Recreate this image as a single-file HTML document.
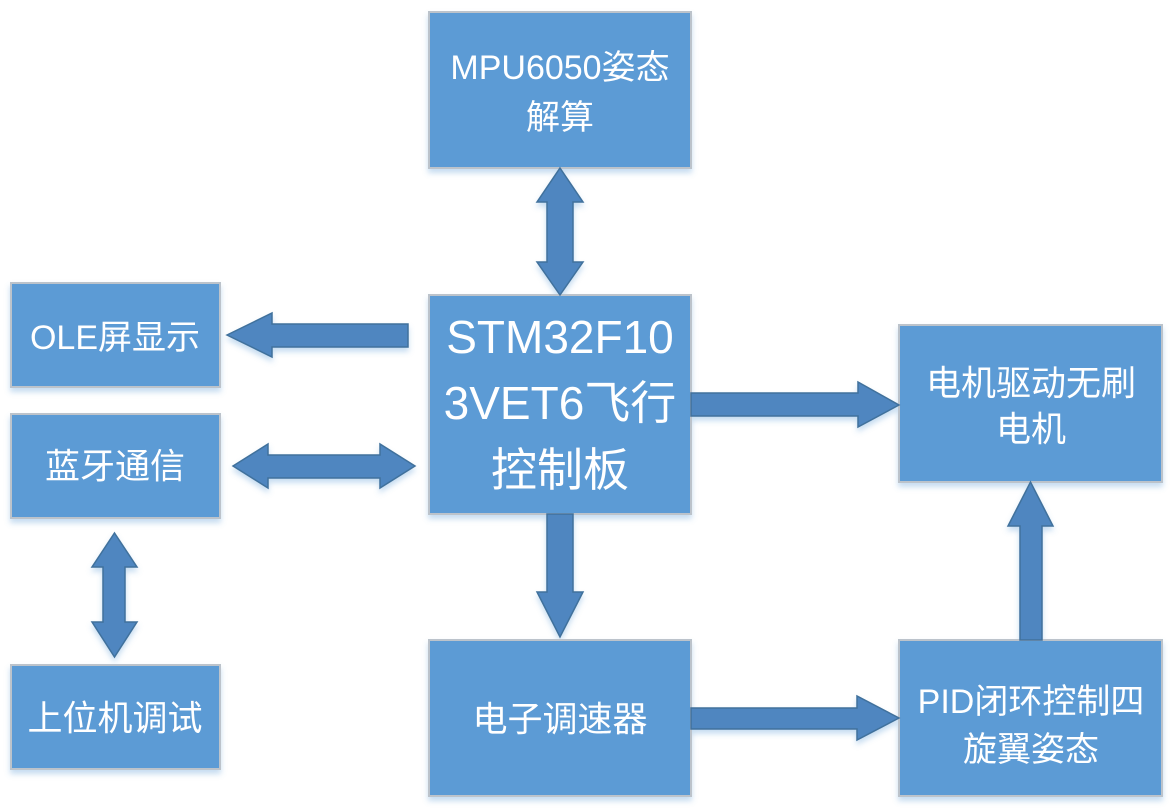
<!DOCTYPE html>
<html>
<head>
<meta charset="utf-8">
<style>
  html,body{margin:0;padding:0;background:#ffffff;}
  body{width:1170px;height:808px;overflow:hidden;}
  svg{display:block;}
  .box{fill:#5b9bd5;stroke:#bcc3cb;stroke-width:2;}
  .arr{fill:#4f86c0;stroke:#41719c;stroke-width:1.5;stroke-linejoin:miter;}
  text{fill:#ffffff;font-family:"Liberation Sans","Noto Sans CJK SC",sans-serif;text-anchor:middle;dominant-baseline:central;}
</style>
</head>
<body>
<svg width="1170" height="808" viewBox="0 0 1170 808" xmlns="http://www.w3.org/2000/svg">
  <defs>
    <filter id="sh" x="-10%" y="-10%" width="120%" height="130%">
      <feGaussianBlur in="SourceAlpha" stdDeviation="3"/>
      <feOffset dx="0" dy="4" result="b"/>
      <feFlood flood-color="#5b9bd5" flood-opacity="0.35"/>
      <feComposite in2="b" operator="in"/>
      <feMerge><feMergeNode/><feMergeNode in="SourceGraphic"/></feMerge>
    </filter>
  </defs>

  <g filter="url(#sh)">
    <!-- boxes -->
    <rect class="box" x="429" y="12" width="262" height="156"/>
    <rect class="box" x="429" y="295" width="262" height="219"/>
    <rect class="box" x="11" y="283" width="209" height="104"/>
    <rect class="box" x="11" y="414" width="209" height="104"/>
    <rect class="box" x="11" y="665" width="209" height="104"/>
    <rect class="box" x="899" y="325" width="263" height="157"/>
    <rect class="box" x="429" y="640" width="262" height="156"/>
    <rect class="box" x="899" y="640" width="263" height="156"/>

    <!-- arrows -->
    <!-- MPU <-> STM -->
    <polygon class="arr" points="560,168 583,202 573,202 573,262 583,262 560,295 537,262 547,262 547,202 537,202"/>
    <!-- STM -> OLE -->
    <polygon class="arr" points="227,335 272,313 272,324 408,324 408,347 272,347 272,357"/>
    <!-- BT <-> STM -->
    <polygon class="arr" points="233,466 268,444 268,455 380,455 380,444 415,466 380,488 380,478 268,478 268,488"/>
    <!-- STM -> Motor -->
    <polygon class="arr" points="691,393 858,393 858,382 899,405 858,427 858,416 691,416"/>
    <!-- STM -> ESC -->
    <polygon class="arr" points="547,514 573,514 573,592 583,592 560,637 537,592 547,592"/>
    <!-- ESC -> PID -->
    <polygon class="arr" points="691,708 857,708 857,696 899,718 857,740 857,729 691,729"/>
    <!-- PID -> Motor -->
    <polygon class="arr" points="1020,640 1020,526 1008,526 1030.5,482 1053,526 1042,526 1042,640"/>
    <!-- BT <-> Host -->
    <polygon class="arr" points="114.5,533 137,567 125,567 125,622 137,622 114.5,657 92,622 103,622 103,567 92,567"/>
  </g>

  <!-- labels -->
  <text x="560" y="68" font-size="34">MPU6050姿态</text>
  <text x="560" y="118" font-size="34">解算</text>

  <text x="560" y="337" font-size="46">STM32F10</text>
  <text x="560" y="403" font-size="46">3VET6飞行</text>
  <text x="560" y="470" font-size="46">控制板</text>

  <text x="115" y="338" font-size="34">OLE屏显示</text>
  <text x="115" y="467" font-size="35">蓝牙通信</text>
  <text x="115" y="719" font-size="35">上位机调试</text>

  <text x="1031" y="384" font-size="35">电机驱动无刷</text>
  <text x="1031" y="430" font-size="35">电机</text>

  <text x="560" y="720" font-size="35">电子调速器</text>

  <text x="1031" y="702" font-size="34">PID闭环控制四</text>
  <text x="1031" y="750" font-size="34">旋翼姿态</text>
</svg>
</body>
</html>
